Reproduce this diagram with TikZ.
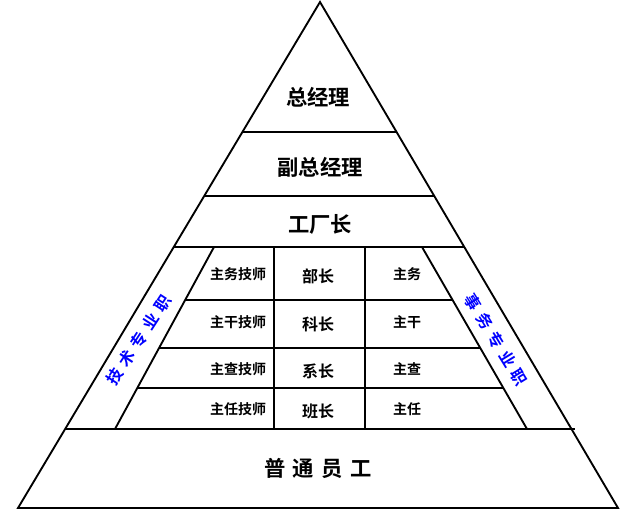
\documentclass[tikz,border=0pt]{standalone}
\usepackage{fontspec}
\setmainfont{Noto Sans CJK SC}[BoldFont={Noto Sans CJK SC Bold}]
\usepackage{xcolor}
\usepackage{tikz}
\usetikzlibrary{positioning}
\definecolor{trackblue}{RGB}{0, 0, 255}
\newcommand{\kgap}{\hspace{5.5pt}}
\newcommand{\tgap}{\hspace{4.5pt}}

\tikzset{
  rank/.style={font=\bfseries\fontsize{16pt}{16pt}\selectfont, inner sep=0pt},
  post/.style={font=\bfseries\fontsize{12pt}{12pt}\selectfont, inner sep=0pt},
  minor/.style={font=\bfseries\fontsize{10.5pt}{10.5pt}\selectfont, inner sep=0pt},
  track/.style={font=\bfseries\fontsize{12pt}{12pt}\selectfont, text=trackblue, inner sep=0pt}
}

\begin{document}
\begin{tikzpicture}[x=0.75pt, y=-0.75pt, line width=1.4pt]
    \useasboundingbox (0,0) rectangle (631,517);

    % Outline
    \coordinate (apex) at (320,2);
    \coordinate (baseL) at (18,508);
    \coordinate (baseR) at (618,508);
    \draw (apex) -- (baseL) -- (baseR) -- cycle;

    % Levels
    \foreach \y in {132,196,247}
      \draw ({320-0.5968*(\y-2)},\y) -- ({320+0.5889*(\y-2)},\y);
    \draw ({320-0.5968*427},429) -- (575,429);

    % Track borders
    \coordinate (techT) at (214,247);
    \coordinate (techB) at (115,429);
    \coordinate (adminT) at (422,247);
    \coordinate (adminB) at (527,429);
    \draw (techT) -- (techB);
    \draw (adminT) -- (adminB);

    % Rows and columns
    \foreach \y in {300,348,388}
      \draw ({214-0.544*(\y-247)},\y) -- ({422+0.577*(\y-247)},\y);
    \foreach \x in {274,365}
      \draw (\x,247) -- (\x,429);

    % Labels
    \node[rank] (gm) at (318,97) {总经理};
    \node[rank] (vgm) at (320,167) {副总经理};
    \node[rank] (fm) at (320,224) {工厂长};
    \node[rank] (staff) at (318,468) {普\kgap 通\kgap 员\kgap 工};

    \foreach \y/\tech/\head/\admin [count=\i] in {274/主务技师/部长/主务, 322/主干技师/科长/主干, 369/主查技师/系长/主查, 409/主任技师/班长/主任}
    {
      \node[minor] (tech\i) at (238,\y) {\tech};
      \node[post] (head\i) at (318,{\y+2.5}) {\head};
      \node[minor] (admin\i) at (407,\y) {\admin};
    }

    \node[track, rotate=57] (techtrack) at (139,340) {技\tgap 术\tgap 专\tgap 业\tgap 职};
    \node[track, rotate=-58.5] (admintrack) at (496,340) {事\tgap 务\tgap 专\tgap 业\tgap 职};
\end{tikzpicture}
\end{document}
